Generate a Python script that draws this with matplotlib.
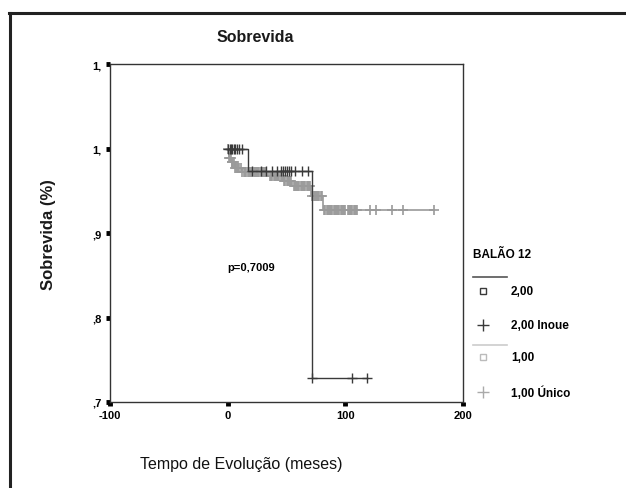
import numpy as np
import matplotlib
matplotlib.use('Agg')
import matplotlib.pyplot as plt
from matplotlib.lines import Line2D

# Kaplan-Meier curves
# group "1,00" (grey): step times and survival after each step
g1_times = [0, 1, 3, 6, 12, 34, 47, 55, 71, 81, 175]
g1_surv = [1.0, 0.989, 0.984, 0.977, 0.9725, 0.967, 0.9615, 0.9556, 0.944, 0.927, 0.927]
# censored observations (grey +)
g1_cens_t = [0.5, 1.5, 2, 2.5, 3.5, 4, 4.5, 5, 6.5, 7, 8, 9, 10, 11, 12.5, 14, 15, 16, 17, 18, 19,
             20, 21, 22, 23, 24, 25, 26, 27, 28, 29, 30, 31, 32, 33, 36, 37, 38, 39, 40, 41,
             42, 43, 44, 45, 46, 48, 49, 50, 51, 52, 53, 54, 56, 57, 58, 59, 60, 61, 62, 63,
             64, 65, 66, 67, 68, 69, 70, 72, 73, 74, 75, 76, 77, 78, 79, 80,
             82, 83, 84, 85, 86, 87, 88, 89, 90, 91, 92, 93, 94, 95, 96, 97, 98, 99, 100,
             102, 103, 104, 105, 106, 107, 108, 109, 110, 121, 126, 140, 149, 175]
g1_cens_s = [1.0, 0.989, 0.989, 0.989, 0.984, 0.984, 0.984, 0.984, 0.977, 0.977, 0.977, 0.977, 0.977,
             0.977, 0.9725, 0.9725, 0.9725, 0.9725, 0.9725, 0.9725, 0.9725, 0.9725, 0.9725, 0.9725,
             0.9725, 0.9725, 0.9725, 0.9725, 0.9725, 0.9725, 0.9725, 0.9725, 0.9725, 0.9725, 0.9725,
             0.967, 0.967, 0.967, 0.967, 0.967, 0.967, 0.967, 0.967, 0.967, 0.967, 0.967,
             0.9615, 0.9615, 0.9615, 0.9615, 0.9615, 0.9615, 0.9615,
             0.9556, 0.9556, 0.9556, 0.9556, 0.9556, 0.9556, 0.9556, 0.9556, 0.9556, 0.9556,
             0.9556, 0.9556, 0.9556, 0.9556, 0.9556,
             0.944, 0.944, 0.944, 0.944, 0.944, 0.944, 0.944, 0.944, 0.944,
             0.927, 0.927, 0.927, 0.927, 0.927, 0.927, 0.927, 0.927, 0.927, 0.927, 0.927, 0.927,
             0.927, 0.927, 0.927, 0.927, 0.927, 0.927, 0.927,
             0.927, 0.927, 0.927, 0.927, 0.927, 0.927, 0.927, 0.927, 0.927,
             0.927, 0.927, 0.927, 0.927, 0.927]

# group "2,00" (dark)
g2_times = [0, 17, 71.5, 118]
g2_surv = [1.0, 0.973, 0.728, 0.728]
g2_cens_t = [0, 2, 3, 4, 5, 6, 8, 10, 12, 21, 28, 33, 38, 42, 45, 47, 49, 50, 52, 54, 57, 63, 68,
             71.5, 106, 118]
g2_cens_s = [1.0] * 9 + [0.973] * 14 + [0.728] * 3

yticks = [0.7, 0.8, 0.9, 1.0, 1.1]
ytick_labels = [',7', ',8', ',9', '1,', '1,']
xticks = [-100, 0, 100, 200]

plt.rcParams['font.family'] = ['Liberation Sans', 'DejaVu Sans']

dark = '#3a3a3a'
grey = '#9a9a9a'

fig = plt.figure(figsize=(6.26, 4.89), dpi=100)
ax = fig.add_axes([110/626, 1-403/489, 353/626, 338/489])

ax.step(g1_times, g1_surv, where='post', color=grey, lw=1.2, zorder=2)
ax.plot(g1_cens_t, g1_cens_s, '+', color=grey, ms=7.5, mew=1.2, zorder=2)
ax.step(g2_times, g2_surv, where='post', color=dark, lw=1.0, zorder=3)
ax.plot(g2_cens_t, g2_cens_s, '+', color=dark, ms=7, mew=1.0, zorder=3)

ax.set_xlim(-100, 200)
ax.set_ylim(0.7, 1.1)
ax.set_xticks(xticks)
ax.set_xticklabels([str(v) for v in xticks])
ax.set_yticks(yticks)
ax.set_yticklabels(ytick_labels)
ax.tick_params(direction='out', length=3, width=3.5, color='black', labelsize=8, pad=3)
for lab in ax.get_xticklabels() + ax.get_yticklabels():
    lab.set_fontweight('bold')
for s in ax.spines.values():
    s.set_color('#333333')
    s.set_linewidth(1.0)

# legend / label positions in figure pixels
def fx(px):
    return px / 626

def fy(py):
    return 1 - py / 489

fig.text(fx(255), fy(37), 'Sobrevida', fontweight='bold', fontsize=11.5,
         ha='center', va='center', color='#1a1a1a')
fig.text(fx(241), fy(465), 'Tempo de Evolução (meses)',
         fontsize=11.5, ha='center', va='center', color='#111111')
fig.text(fx(48), fy(235), 'Sobrevida (%)', fontweight='bold',
         fontsize=12, rotation=90, ha='center', va='center', color='#1a1a1a')
ax.text(0, 0.86, 'p=0,7009', fontsize=8, fontweight='bold', ha='left', va='center')

fig.text(fx(473), fy(255), 'BALÃO 12', fontsize=8.5, fontweight='bold', va='center')
fig.add_artist(Line2D([fx(473), fx(507)], [fy(278), fy(278)], color='#555555', lw=1.2))
fig.add_artist(Line2D([fx(483)], [fy(292)], marker='s', ms=4, mfc='none', mec=dark, mew=1.0))
fig.text(fx(511), fy(292), '2,00', fontsize=8.5, fontweight='bold', va='center')
fig.add_artist(Line2D([fx(483)], [fy(326)], marker='+', ms=8, color=dark, mew=1.0))
fig.text(fx(511), fy(326), '2,00 Inoue', fontsize=8.5, fontweight='bold', va='center')
fig.add_artist(Line2D([fx(473), fx(507)], [fy(346), fy(346)], color='#cccccc', lw=1.2))
fig.add_artist(Line2D([fx(483)], [fy(358)], marker='s', ms=4, mfc='none', mec='#bbbbbb', mew=1.0))
fig.text(fx(511), fy(358), '1,00', fontsize=8.5, fontweight='bold', va='center')
fig.add_artist(Line2D([fx(483)], [fy(393)], marker='+', ms=8, color='#aaaaaa', mew=1.0))
fig.text(fx(511), fy(393), '1,00 Único', fontsize=8.5, fontweight='bold', va='center')

# outer frame (top and left only visible)
fig.add_artist(Line2D([fx(9), 1.0], [fy(13.5), fy(13.5)], color='#222222', lw=2.2))
fig.add_artist(Line2D([fx(9.5), fx(9.5)], [fy(13.5), 0.0], color='#222222', lw=2.2))

fig.savefig('out.png', dpi=100)
